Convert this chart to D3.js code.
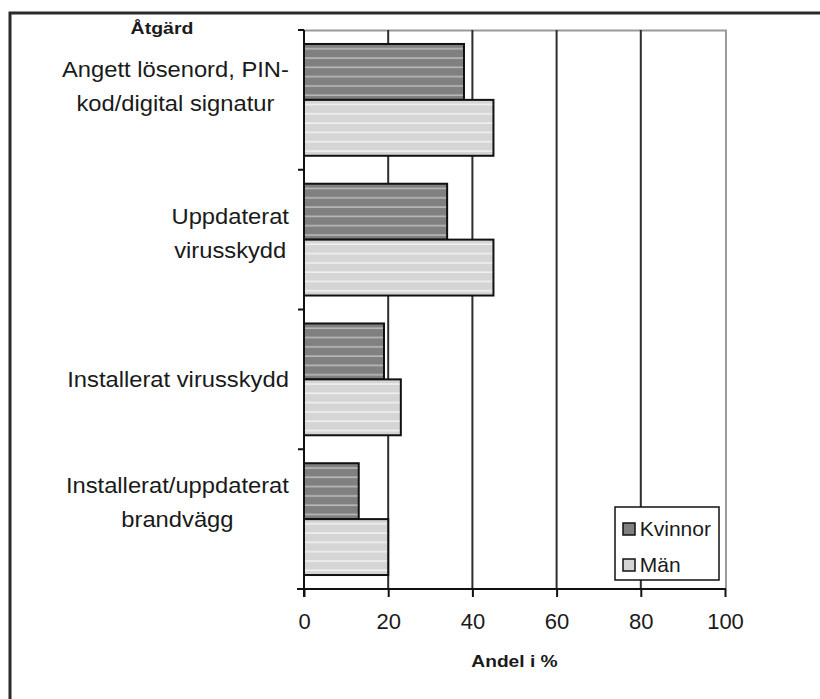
<!DOCTYPE html>
<html>
<head>
<meta charset="utf-8">
<script src="https://cdn.jsdelivr.net/npm/d3@7"></script>
<style>
  body { margin: 0; background: #fff; }
  svg text { font-family: "Liberation Sans", Arial, sans-serif; fill: #1a1a1a; }
</style>
</head>
<body>
<svg width="820" height="699"></svg>
<script>
var categories = ["Angett lösenord, PIN-\nkod/digital signatur", "Uppdaterat\nvirusskydd", "Installerat virusskydd", "Installerat/uppdaterat\nbrandvägg"];
var series = ["Kvinnor", "Män"];
var kvinnor = [38, 34, 19, 13];
var man = [45, 45, 23, 20];
var xTicks = [0, 20, 40, 60, 80, 100];

var svg = d3.select("svg"),
    margin = {top: 30, left: 304},
    width = 726 - 304,
    height = 589 - 30;

var data = categories.map(function(c, i) { return {cat: c, Kvinnor: kvinnor[i], "Män": man[i]}; });

var x = d3.scaleLinear().domain([0, 100]).range([0, 421]),
    y0 = d3.scaleBand().domain(categories).range([0, height]).paddingInner(0.2).paddingOuter(0.1),
    y1 = d3.scaleBand().domain(series).range([0, y0.bandwidth()]),
    step = y0.step();

// the source picture is a bit wider than tall, text is stretched sideways
var stretch = 1.08;

// fill patterns, horizontal stripes
var defs = svg.append("defs");
var pats = {Kvinnor: ["#808080", "#b9b9b9"], "Män": ["#d5d5d5", "#f0f0f0"]};
series.forEach(function(s, i) {
  var p = defs.append("pattern").attr("id", "pat" + i)
      .attr("patternUnits", "userSpaceOnUse").attr("width", 10).attr("height", 9.3);
  p.append("rect").attr("width", 10).attr("height", 9.3).attr("fill", pats[s][0]);
  p.append("rect").attr("y", 4).attr("width", 10).attr("height", 1.6).attr("fill", pats[s][1]);
});

// outer frame
svg.append("rect").attr("x", 10).attr("y", 13).attr("width", 840).attr("height", 720)
    .attr("fill", "none").attr("stroke", "#2a2a2a").attr("stroke-width", 3);

var g = svg.append("g").attr("transform", "translate(" + margin.left + "," + margin.top + ")");

// plot area border (grey top/right)
g.append("path")
    .attr("d", "M0,0.5H" + (x(100) + 1) + "V" + height)
    .attr("fill", "none").attr("stroke", "#9a9a9a").attr("stroke-width", 2);

// gridlines
g.selectAll(".grid").data(xTicks.filter(function(d) { return d > 0 && d < 100; }))
  .enter().append("line")
    .attr("x1", function(d) { return x(d); }).attr("x2", function(d) { return x(d); })
    .attr("y1", 0).attr("y2", height)
    .attr("stroke", "#2e2e2e").attr("stroke-width", 2);

// bars
var grp = g.selectAll(".cat").data(data).enter().append("g")
    .attr("transform", function(d) { return "translate(0," + y0(d.cat) + ")"; });

grp.selectAll("rect").data(function(d) { return series.map(function(s, i) { return {key: s, i: i, value: d[s]}; }); })
  .enter().append("rect")
    .attr("x", 0)
    .attr("y", function(d) { return y1(d.key); })
    .attr("width", function(d) { return x(d.value); })
    .attr("height", y1.bandwidth())
    .attr("fill", function(d) { return "url(#pat" + d.i + ")"; })
    .attr("stroke", "#111").attr("stroke-width", 2);

// y axis: ticks at category boundaries
var bounds = d3.range(categories.length + 1).map(function(i) { return i * step; });
g.append("line").attr("x1", 0).attr("x2", 0).attr("y1", 0).attr("y2", height + 8)
    .attr("stroke", "#111").attr("stroke-width", 2);
g.selectAll(".ytick").data(bounds).enter().append("line")
    .attr("x1", -6).attr("x2", 0)
    .attr("y1", function(d) { return d; }).attr("y2", function(d) { return d; })
    .attr("stroke", "#111").attr("stroke-width", 2);

// x axis
var xAxis = g.append("g")
    .attr("transform", "translate(0," + height + ")")
    .call(d3.axisBottom(x).tickValues(xTicks).tickSize(8).tickPadding(16).tickSizeOuter(0));
xAxis.select(".domain").attr("d", "M-7,0H" + (x(100) + 1)).attr("stroke", "#111").attr("stroke-width", 2);
xAxis.selectAll(".tick line").attr("stroke", "#111").attr("stroke-width", 2);
xAxis.selectAll(".tick text").attr("font-size", 22).attr("fill", "#1a1a1a")
    .style("font-family", "'Liberation Sans', Arial, sans-serif");

// category labels (Excel places the wrapped labels a bit unevenly)
var labelRight = 289 - margin.left;
var labelShift = [-14, -6, 0, -17];
g.selectAll(".lab").data(categories).enter().append("text")
    .attr("class", "lab")
    .attr("font-size", 22)
    .attr("text-anchor", "middle")
    .each(function(c, i) {
      var t = d3.select(this), lines = c.split("\n"), lh = 34;
      var cy = y0(c) + y0.bandwidth() / 2 + labelShift[i];
      lines.forEach(function(l, j) {
        t.append("tspan").text(l).attr("x", 0)
          .attr("y", (j - (lines.length - 1) / 2) * lh).attr("dy", "0.35em");
      });
      var w = d3.max(t.selectAll("tspan").nodes(), function(n) { return n.getComputedTextLength(); }) * stretch;
      t.attr("transform", "translate(" + (labelRight - w / 2) + "," + cy + ") scale(" + stretch + ",1)");
    });

// titles
svg.append("text").attr("transform", "translate(162,34) scale(1.22,1)").attr("text-anchor", "middle")
    .attr("font-size", 16).attr("font-weight", "bold").text("Åtgärd");
svg.append("text").attr("transform", "translate(" + (margin.left + x(50)) + ",667) scale(1.2,1)")
    .attr("text-anchor", "middle")
    .attr("font-size", 16).attr("font-weight", "bold").text("Andel i %");

// legend
var lg = svg.append("g").attr("transform", "translate(615,507)");
lg.append("rect").attr("width", 104).attr("height", 73)
    .attr("fill", "#fff").attr("stroke", "#111").attr("stroke-width", 1.5);
var li = lg.selectAll(".li").data(series).enter().append("g")
    .attr("transform", function(d, i) { return "translate(8," + (22 + i * 36) + ")"; });
li.append("rect").attr("x", 0).attr("y", -6).attr("width", 12).attr("height", 12)
    .attr("fill", function(d, i) { return pats[d][0]; })
    .attr("stroke", "#111").attr("stroke-width", 1.5);
li.append("text").attr("x", 16).attr("dy", "0.35em").attr("font-size", 20)
    .attr("transform", "scale(1.05,1)")
    .text(function(d) { return d; });
</script>
</body>
</html>
